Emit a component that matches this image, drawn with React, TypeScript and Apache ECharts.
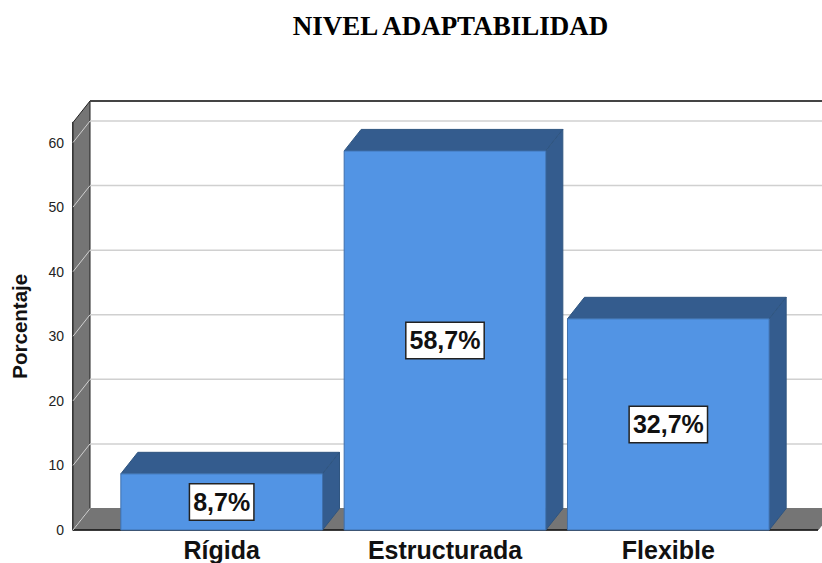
import React, { useEffect, useRef } from "react";
import * as echarts from "echarts";

const titleText = "NIVEL ADAPTABILIDAD";
const categories = ["Rígida", "Estructurada", "Flexible"];
const values = [8.7, 58.7, 32.7];
const valueLabels = ["8,7%", "58,7%", "32,7%"];
const gridTicks = [0, 10, 20, 30, 40, 50, 60];
const yMax = 63.1;

const DX = 17;
const DY = 21.5;
const FRONT = "#5294e4";
const SHADE = "#345c8e";
const EDGE = "#2f5580";
const WALL = "#757575";
const GRID = "#d0d0d0";

function renderBackdrop(params: any, api: any) {
  const cs = params.coordSys;
  const left = cs.x - 37;
  const right = cs.x + cs.width + 38;
  const bottom = api.coord([0, 0])[1];
  const top = api.coord([0, yMax])[1];
  const children: any[] = [
    {
      type: "polygon",
      shape: { points: [[left, bottom], [left + DX, bottom - DY], [left + DX, top - DY], [left, top]] },
      style: { fill: WALL, stroke: "#222222", lineWidth: 1 },
    },
    {
      type: "polygon",
      shape: { points: [[left, bottom], [left + DX, bottom - DY], [right + DX, bottom - DY], [right, bottom]] },
      style: { fill: WALL, stroke: WALL, lineWidth: 1 },
    },
    {
      type: "line",
      shape: { x1: left + DX, y1: top - DY, x2: 822, y2: top - DY },
      style: { stroke: "#444444", lineWidth: 2 },
    },
    {
      type: "line",
      shape: { x1: left, y1: bottom, x2: right, y2: bottom },
      style: { stroke: "#111111", lineWidth: 1.5 },
    },
  ];
  gridTicks.forEach((t) => {
    const y = api.coord([0, t])[1];
    children.push({
      type: "line",
      shape: { x1: left, y1: y, x2: left + DX, y2: y - DY },
      style: { stroke: GRID, lineWidth: 1 },
    });
    if (t > 0) {
      children.push({
        type: "line",
        shape: { x1: left + DX, y1: y - DY, x2: 822, y2: y - DY },
        style: { stroke: GRID, lineWidth: 1.5 },
      });
    }
  });
  return { type: "group", children };
}

function renderBar(params: any, api: any) {
  const i = api.value(0);
  const v = api.value(1);
  const [cx, yTop] = api.coord([i, v]);
  const [, yBase] = api.coord([i, 0]);
  const w = api.size([1, 0])[0] * 0.903;
  const x0 = cx - w / 2;
  const x1 = cx + w / 2;
  return {
    type: "group",
    children: [
      {
        type: "polygon",
        shape: { points: [[x0, yTop], [x0 + DX, yTop - DY], [x1 + DX, yTop - DY], [x1, yTop]] },
        style: { fill: SHADE, stroke: EDGE, lineWidth: 1 },
      },
      {
        type: "polygon",
        shape: { points: [[x1, yTop], [x1 + DX, yTop - DY], [x1 + DX, yBase - DY], [x1, yBase]] },
        style: { fill: SHADE, stroke: EDGE, lineWidth: 1 },
      },
      {
        type: "rect",
        shape: { x: x0, y: yTop, width: w, height: yBase - yTop },
        style: { fill: FRONT, stroke: "#3f70ad", lineWidth: 1 },
      },
      {
        type: "text",
        x: cx,
        y: (yTop + yBase) / 2,
        style: {
          text: valueLabels[params.dataIndex],
          font: 'bold 25px "Liberation Sans", Arial, sans-serif',
          fill: "#111111",
          align: "center",
          verticalAlign: "middle",
          backgroundColor: "#ffffff",
          borderColor: "#222222",
          borderWidth: 1.5,
          padding: [5, 3, 5, 3],
        },
      },
    ],
  };
}

export default function App() {
  const ref = useRef<HTMLDivElement>(null);
  useEffect(() => {
    document.body.style.margin = "0";
    const chart = echarts.init(ref.current!, undefined, { renderer: "svg" });
    chart.setOption({
      animation: false,
      backgroundColor: "#ffffff",
      title: {
        text: titleText,
        left: 445.5,
        top: 7,
        textAlign: "center",
        textStyle: {
          fontFamily: '"Liberation Serif", "Times New Roman", serif',
          fontWeight: "bold",
          fontSize: 27,
          color: "#000000",
        },
      },
      grid: { left: 110, width: 670, top: 122.5, height: 407.5, outerBoundsMode: "none" },
      xAxis: {
        type: "category",
        data: categories,
        axisLine: { show: false },
        axisTick: { show: false },
        axisLabel: {
          margin: 8.5,
          interval: 0,
          lineHeight: 22,
          color: "#111111",
          fontFamily: '"Liberation Sans", Arial, sans-serif',
          fontWeight: "bold",
          fontSize: 25,
        },
      },
      yAxis: {
        type: "value",
        min: 0,
        max: yMax,
        interval: 10,
        offset: 37,
        name: "Porcentaje",
        nameLocation: "middle",
        nameGap: 43,
        nameTextStyle: {
          color: "#111111",
          fontFamily: '"Liberation Sans", Arial, sans-serif',
          fontWeight: "bold",
          fontSize: 20.5,
        },
        axisLine: { show: true, lineStyle: { color: "#111111", width: 1.5 } },
        axisTick: { show: false },
        splitLine: { show: false },
        axisLabel: {
          showMaxLabel: false,
          margin: 9,
          padding: [2, 0, 0, 0],
          color: "#222222",
          fontFamily: '"Liberation Sans", Arial, sans-serif',
          fontSize: 14,
        },
      },
      series: [
        { type: "custom", silent: true, renderItem: renderBackdrop, data: [[0, 0]], z: 1 },
        { type: "custom", silent: true, renderItem: renderBar, data: values.map((v, i) => [i, v]), z: 2 },
      ],
    });
    return () => chart.dispose();
  }, []);
  return <div ref={ref} style={{ width: 822, height: 563 }} />;
}
